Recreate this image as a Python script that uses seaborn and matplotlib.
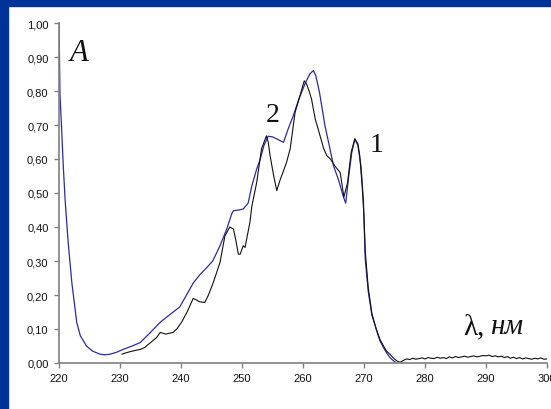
import matplotlib
matplotlib.use("Agg")
import matplotlib.pyplot as plt
import seaborn as sns
import pandas as pd
from matplotlib.patches import Rectangle

# ---- data ----
wl_blue = [220.0, 220.16, 220.4, 220.7, 221.0, 221.5, 222.1, 222.9, 223.5, 224.5,
           225.5, 226.7, 227.5, 228.4, 229.5, 230.5, 232.0, 233.3, 235.0, 236.6,
           238.0, 239.8, 240.9, 242.0, 243.1, 244.2, 245.2, 246.4, 247.5, 248.3,
           248.6, 249.5, 250.2, 251.0, 251.6, 252.4, 253.0, 253.6, 254.3, 255.0,
           255.7, 256.8, 257.6, 258.4, 259.3, 260.3, 261.1, 261.7, 262.1, 262.7,
           263.6, 264.3, 265.0, 265.8, 266.6, 267.0, 267.5, 268.0, 268.5, 269.0,
           269.5, 269.9, 270.2, 270.7, 271.3, 272.0, 272.6, 273.2, 273.7, 274.3,
           274.8, 275.3]
a_blue = [1.00, 0.79, 0.70, 0.58, 0.48, 0.355, 0.237, 0.12, 0.08, 0.05,
          0.035, 0.026, 0.024, 0.026, 0.032, 0.04, 0.05, 0.06, 0.09, 0.12,
          0.14, 0.165, 0.20, 0.235, 0.26, 0.28, 0.30, 0.345, 0.394, 0.438,
          0.448, 0.45, 0.453, 0.47, 0.52, 0.57, 0.60, 0.64, 0.667, 0.665,
          0.659, 0.649, 0.69, 0.727, 0.775, 0.82, 0.85, 0.86, 0.845, 0.796,
          0.698, 0.64, 0.58, 0.54, 0.49, 0.47, 0.55, 0.62, 0.659, 0.64,
          0.58, 0.48, 0.306, 0.21, 0.14, 0.10, 0.066, 0.045, 0.03, 0.015,
          0.007, 0.0]

wl_black = [230.3, 231.0, 232.0, 233.3, 234.0, 235.0, 236.0, 236.6, 237.5, 238.7,
            239.3, 240.1, 241.0, 242.0, 243.1, 243.9, 244.5, 245.3, 246.4, 247.2,
            248.0, 248.6, 249.0, 249.4, 249.7, 250.2, 250.5, 251.3, 251.6, 252.4,
            253.2, 254.0, 254.3, 254.6, 255.2, 255.7, 256.2, 256.7, 257.3, 257.9,
            258.7, 259.5, 260.2, 260.6, 261.0, 261.4, 262.0, 262.8, 263.4, 263.9,
            264.5, 265.2, 266.1, 266.7, 267.3, 267.9, 268.5, 269.0, 269.3, 269.7,
            270.0, 270.2, 270.7, 271.3, 272.0, 272.6, 273.2, 273.7, 274.3, 274.8,
            275.4, 275.9,
            276.5, 277.0, 277.5, 278.0, 278.5, 279.0, 279.5, 280.0, 280.5, 281.0,
            281.5, 282.0, 282.5, 283.0, 283.5, 284.0, 284.5, 285.0, 285.5, 286.0,
            286.5, 287.0, 287.5, 288.0, 288.5, 289.0, 289.5, 290.0, 290.5, 291.0,
            291.5, 292.0, 292.5, 293.0, 293.5, 294.0, 294.5, 295.0, 295.5, 296.0,
            296.5, 297.0, 297.5, 298.0, 298.5, 299.0, 299.5, 300.0]
a_black = [0.026, 0.03, 0.035, 0.04, 0.045, 0.06, 0.075, 0.09, 0.085, 0.09,
           0.10, 0.12, 0.15, 0.19, 0.18, 0.178, 0.20, 0.237, 0.296, 0.374,
           0.40, 0.394, 0.36, 0.32, 0.32, 0.345, 0.34, 0.414, 0.46, 0.53,
           0.63, 0.668, 0.65, 0.61, 0.55, 0.507, 0.536, 0.56, 0.59, 0.63,
           0.737, 0.786, 0.83, 0.82, 0.80, 0.776, 0.718, 0.668, 0.63, 0.61,
           0.60, 0.58, 0.56, 0.488, 0.53, 0.62, 0.659, 0.645, 0.61, 0.52,
           0.43, 0.33, 0.22, 0.145, 0.10, 0.07, 0.05, 0.035, 0.025, 0.015,
           0.006, 0.002,
           0.008, 0.012, 0.010, 0.014, 0.011, 0.013, 0.015, 0.012, 0.016, 0.014,
           0.013, 0.017, 0.014, 0.016, 0.013, 0.018, 0.015, 0.019, 0.016, 0.018,
           0.020, 0.017, 0.019, 0.021, 0.018, 0.020, 0.022, 0.021, 0.023, 0.019,
           0.021, 0.018, 0.020, 0.016, 0.019, 0.014, 0.017, 0.013, 0.016, 0.012,
           0.015, 0.013, 0.011, 0.014, 0.012, 0.015, 0.011, 0.012]

x_ticks = [220, 230, 240, 250, 260, 270, 280, 290, 300]
y_ticks = [0.0, 0.1, 0.2, 0.3, 0.4, 0.5, 0.6, 0.7, 0.8, 0.9, 1.0]
y_tick_labels = ["0,00", "0,10", "0,20", "0,30", "0,40", "0,50",
                 "0,60", "0,70", "0,80", "0,90", "1,00"]

# ---- plot ----
sns.set_style("white")
plt.rcParams['font.family'] = ['Liberation Sans', 'DejaVu Sans']

fig = plt.figure(figsize=(5.51, 4.10), dpi=100)
fig.patch.set_facecolor("white")
ax = fig.add_axes([59/551, 46/410, (547-59)/551, (364-24)/410])

df_b = pd.DataFrame({"wl": wl_blue, "A": a_blue})
df_k = pd.DataFrame({"wl": wl_black, "A": a_black})
sns.lineplot(data=df_b, x="wl", y="A", ax=ax, color="#2a2aa8", lw=0.9, sort=False)
sns.lineplot(data=df_k, x="wl", y="A", ax=ax, color="#111111", lw=0.8, sort=False)

ax.set_xlim(220, 300)
ax.set_ylim(0, 1.0)
ax.set_xticks(x_ticks)
ax.set_xticklabels([str(t) for t in x_ticks])
ax.set_yticks(y_ticks)
ax.set_yticklabels(y_tick_labels)
ax.set_xlabel("")
ax.set_ylabel("")
for s in ["top", "right"]:
    ax.spines[s].set_visible(False)
for s in ["left", "bottom"]:
    ax.spines[s].set_color("#808080")
    ax.spines[s].set_linewidth(1.2)
ax.tick_params(axis="both", direction="out", length=3.5, width=1, color="#808080",
               labelsize=8, labelcolor="#111111", pad=4)
ax.tick_params(left=True, bottom=True)
for lab in ax.get_xticklabels() + ax.get_yticklabels():
    lab.set_clip_on(False)

serif = ['Liberation Serif', 'DejaVu Serif']
ax.text(221.8, 0.891, "A", family=serif, style="italic", fontsize=22, color="#111111")
ax.text(253.9, 0.712, "2", family=serif, fontsize=20, color="#111111")
ax.text(270.9, 0.624, "1", family=serif, fontsize=20, color="#111111")
ax.text(286.2, 0.088, "λ,", family=serif, fontsize=21, color="#111111")
ax.text(290.6, 0.088, "нм", family=serif, style="italic", fontsize=21, color="#111111")

# blue frame bands
fig.patches.append(Rectangle((0, 0), 8/551, 1, transform=fig.transFigure,
                             color="#003399", zorder=10))
fig.patches.append(Rectangle((0, 1 - 7/410), 1, 7/410, transform=fig.transFigure,
                             color="#003399", zorder=10))

fig.savefig("out.png", dpi=100)
